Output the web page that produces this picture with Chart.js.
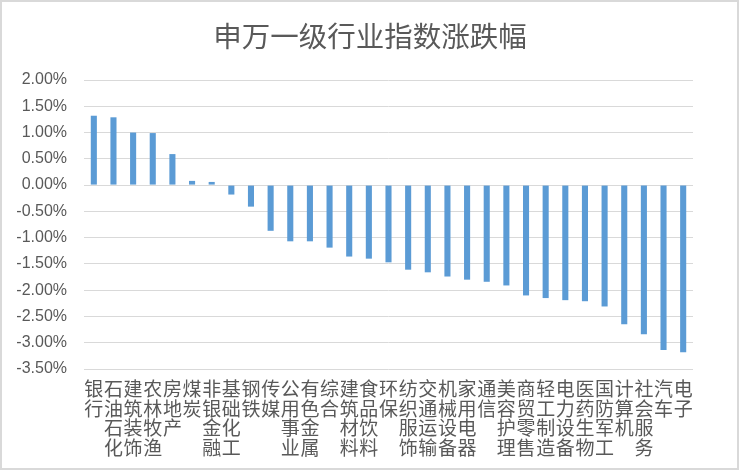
<!DOCTYPE html>
<html>
<head>
<meta charset="utf-8">
<script src="https://cdn.jsdelivr.net/npm/chart.js@4/dist/chart.umd.min.js"></script>
<style>
html,body{margin:0;padding:0;background:#fff;}
canvas{display:block;}
</style>
</head>
<body>
<canvas id="c" width="740" height="471"></canvas>
<script>
const titleText = '申万一级行业指数涨跌幅';
const industries = ['银行','石油石化','建筑装饰','农林牧渔','房地产','煤炭','非银金融','基础化工','钢铁','传媒','公用事业','有色金属','综合','建筑材料','食品饮料','环保','纺织服饰','交通运输','机械设备','家用电器','通信','美容护理','商贸零售','轻工制造','电力设备','医药生物','国防军工','计算机','社会服务','汽车','电子'];
const changePct = [1.32,1.29,1.00,0.99,0.59,0.08,0.06,-0.18,-0.41,-0.87,-1.07,-1.07,-1.19,-1.36,-1.40,-1.47,-1.61,-1.66,-1.74,-1.80,-1.84,-1.91,-2.10,-2.15,-2.19,-2.21,-2.31,-2.65,-2.84,-3.14,-3.18];
const yMin = -3.5, yMax = 2.0, yStep = 0.5;

const labels = industries.map(s => s.split(''));

Chart.defaults.font.family = '"Liberation Sans", Arial, sans-serif';
Chart.defaults.font.size = 16;
Chart.defaults.color = '#595959';

const bgPlugin = {
  id: 'bg',
  beforeDraw(chart) {
    const ctx = chart.ctx;
    ctx.save();
    ctx.fillStyle = '#ffffff';
    ctx.fillRect(0, 0, chart.width, chart.height);
    ctx.restore();
  },
  afterDraw(chart) {
    const ctx = chart.ctx;
    ctx.save();
    ctx.fillStyle = '#595959';
    ctx.font = '28.5px "Noto Sans CJK SC"';
    ctx.textAlign = 'center';
    ctx.textBaseline = 'middle';
    ctx.fillText(titleText, 370, 36);
    ctx.strokeStyle = '#d9d9d9';
    ctx.lineWidth = 2;
    ctx.strokeRect(1, 1, 737, 468);
    ctx.restore();
  }
};

new Chart(document.getElementById('c'), {
  type: 'bar',
  data: {
    labels: labels,
    datasets: [{
      data: changePct,
      backgroundColor: '#5b9bd5',
      borderWidth: 0,
      categoryPercentage: 1,
      barPercentage: 0.31
    }]
  },
  plugins: [bgPlugin],
  options: {
    responsive: false,
    animation: false,
    layout: { padding: { top: 80, right: 47, bottom: 3.4, left: 0 } },
    plugins: {
      legend: { display: false },
      tooltip: { enabled: false },
      title: { display: false }
    },
    scales: {
      x: {
        grid: { display: false, drawTicks: false },
        border: { display: false },
        ticks: {
          autoSkip: false,
          maxRotation: 0,
          minRotation: 0,
          padding: 10.5,
          color: '#595959',
          font: { family: '"Noto Sans CJK SC"', size: 19, lineHeight: '19.4px' }
        }
      },
      y: {
        min: yMin,
        max: yMax,
        afterFit(scale) { scale.width = 84; },
        grid: { color: '#d9d9d9', lineWidth: 1, drawTicks: false },
        border: { display: false },
        ticks: {
          stepSize: yStep,
          padding: 17,
          color: '#595959',
          font: { family: '"Liberation Sans", Arial, sans-serif', size: 16 },
          callback: v => Number(v).toFixed(2) + '%'
        }
      }
    }
  }
});
</script>
</body>
</html>
